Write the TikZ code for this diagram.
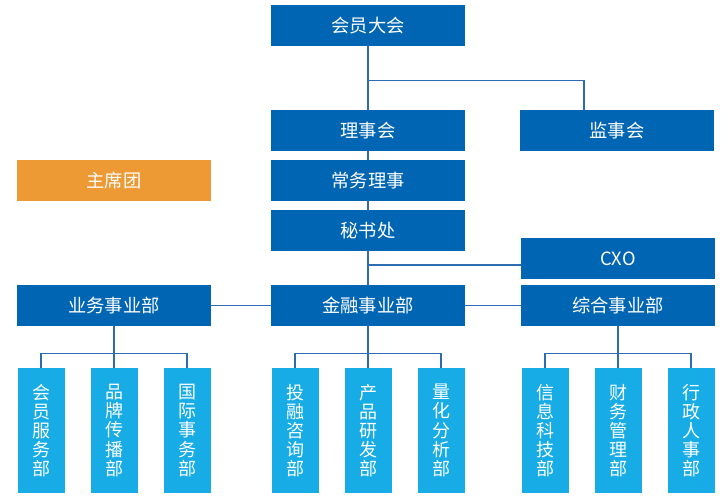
\documentclass[tikz,border=0pt]{standalone}
\usepackage{fontspec}
\newfontfamily\cjk{Noto Sans CJK SC}
\usetikzlibrary{positioning}
\definecolor{darkbox}{RGB}{0,101,179}
\definecolor{lightbox}{RGB}{24,172,230}
\definecolor{orangebox}{RGB}{238,154,52}
\definecolor{linec}{RGB}{45,108,176}

\begin{document}
\begin{tikzpicture}[node distance=12.5mm, unit/.style={rectangle, fill=darkbox, text=white, minimum width=48.5mm, minimum height=10.25mm, inner sep=0pt, font=\cjk\fontsize{13}{14}\selectfont}, chair/.style={unit, fill=orangebox}, dept/.style={rectangle, fill=lightbox, text=white, minimum width=11.75mm, minimum height=31.25mm, inner sep=0pt, align=center, font=\cjk\fontsize{12.8}{13.6}\selectfont}, conn/.style={draw=linec, line width=0.3mm}]

    \useasboundingbox (0,0) rectangle (182mm,-125.5mm);

    \node[unit] (hydh) at (92mm,-6.375mm) {会员大会};
    \node[unit, below of=hydh, node distance=26.25mm] (lsh) {理事会};
    \node[unit, right of=lsh, node distance=62.25mm] (jsh) {监事会};
    \node[unit, below of=lsh] (cwls) {常务理事};
    \node[chair, left of=cwls, node distance=63.5mm] (zxt) {主席团};
    \node[unit, below of=cwls] (msc) {秘书处};
    \node[unit, below of=msc, node distance=18.75mm] (jrb) {金融事业部};
    \node[unit, left of=jrb, node distance=63.5mm] (ywb) {业务事业部};
    \node[unit, right of=jrb, node distance=62.5mm] (zhb) {综合事业部};
    \node[unit, above of=zhb, node distance=11.75mm] (cxo) {CXO};

    \node[dept, below of=ywb, node distance=31.25mm] (ppcb) {品\\牌\\传\\播\\部};
    \node[dept, left of=ppcb, node distance=18.25mm] (hyfw) {会\\员\\服\\务\\部};
    \node[dept, right of=ppcb, node distance=18.25mm] (gjsw) {国\\际\\事\\务\\部};
    \node[dept, below of=jrb, node distance=31.25mm] (cpyf) {产\\品\\研\\发\\部};
    \node[dept, left of=cpyf, node distance=18.25mm] (trzx) {投\\融\\咨\\询\\部};
    \node[dept, right of=cpyf, node distance=18.25mm] (lhfx) {量\\化\\分\\析\\部};
    \node[dept, below of=zhb, node distance=31.25mm] (cwgl) {财\\务\\管\\理\\部};
    \node[dept, left of=cwgl, node distance=18.25mm] (xxkj) {信\\息\\科\\技\\部};
    \node[dept, right of=cwgl, node distance=18.25mm] (xzrs) {行\\政\\人\\事\\部};

    \draw[conn] (hydh) -- (lsh);
    \draw[conn] (hydh.south) -- ++(0,-8.5mm) -| ([xshift=-8.25mm]jsh.north);
    \draw[conn] (lsh) -- (cwls);
    \draw[conn] (cwls) -- (msc);
    \draw[conn] (msc) -- (jrb);
    \draw[conn] ([yshift=-1.6mm]cxo.west) -| (jrb.north);
    \draw[conn] (ywb) -- (jrb);
    \draw[conn] (jrb) -- (zhb);

    \draw[conn] (ywb) -- (ppcb);
    \draw[conn] (ywb.south) -- ++(0,-6.75mm) -| (hyfw.north);
    \draw[conn] (ywb.south) -- ++(0,-6.75mm) -| (gjsw.north);
    \draw[conn] (jrb) -- (cpyf);
    \draw[conn] (jrb.south) -- ++(0,-6.75mm) -| (trzx.north);
    \draw[conn] (jrb.south) -- ++(0,-6.75mm) -| (lhfx.north);
    \draw[conn] (zhb) -- (cwgl);
    \draw[conn] (zhb.south) -- ++(0,-6.75mm) -| (xxkj.north);
    \draw[conn] (zhb.south) -- ++(0,-6.75mm) -| (xzrs.north);

  \end{tikzpicture}
\end{document}
